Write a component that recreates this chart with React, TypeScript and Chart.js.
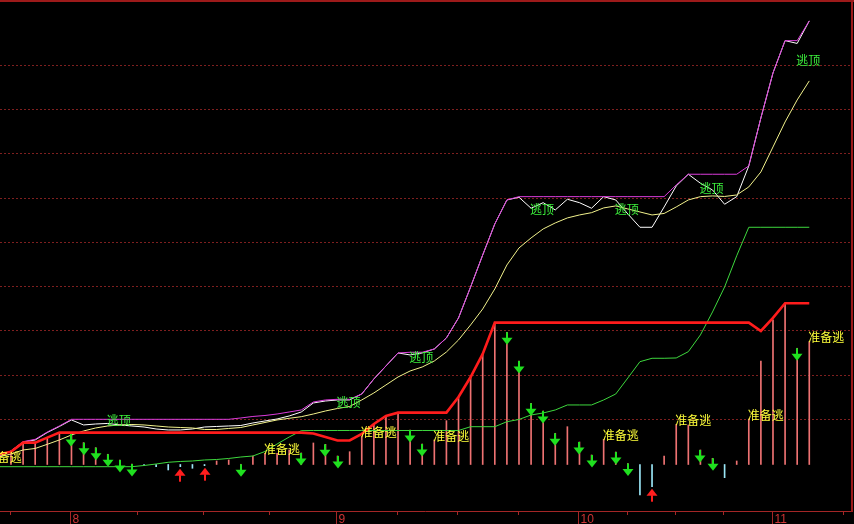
import { useEffect, useRef } from "react";
import { Chart, registerables } from "chart.js";

Chart.register(...registerables);

// One entry per trading session; index 0 is the session just left of the visible range.
const upperBand = [
  1.24, 1.92, 3.05, 5.15, 5.69, 7.34, 8.7, 10.21,
  10.21, 10.21, 10.21, 10.21, 10.21, 10.21, 10.21, 10.21, 10.21, 10.21, 10.21, 10.21, 10.21,
  10.51, 10.85, 11.07, 11.41, 11.86, 12.32, 14.12, 14.58, 14.73, 14.73,
  15.93, 19.32, 22.26, 25.2, 25.36, 25.36, 26.1, 28.59, 33.11, 40.11,
  47.34, 54.35, 59.77,
  60.52, 60.52, 60.52, 60.52, 60.52, 60.52, 60.52, 60.52, 60.52, 60.52, 60.52, 60.52, 60.52,
  63.16, 65.58, 65.58, 65.58, 65.58, 65.58, 67.46, 78.31, 88.47, 95.77, 95.77, 100.23,
];

const closePrice = [
  1.02, 1.92, 3.05, 5.08, 5.54, 7.23, 8.59, 10.06,
  8.93, 9.15, 9.27, 8.93, 8.7, 8.47, 8.02, 7.8, 7.8, 8.02, 8.47, 8.59, 8.7,
  8.81, 9.38, 9.83, 10.28, 10.96, 11.86, 13.9, 14.35, 14.58, 14.58,
  15.93, 19.32, 22.26, 25.2, 24.75, 25.2, 26.1, 28.59, 33.11, 40.11,
  47.34, 54.35, 59.77, 60.38, 57.9, 59.16, 57.51, 59.93, 59.16, 57.9,
  60.52, 59.77, 56.61, 53.6, 53.6, 58.19, 62.94, 65.58, 63.55, 62.03,
  58.8, 60.52, 67.46, 78.31, 88.47, 95.77, 95.14, 100.23,
];

const avgLine = [
  1.02, 1.69, 2.37, 3.28, 3.62, 4.56, 5.54, 6.67, 7.57, 8.25,
  8.7, 8.93, 9.04, 8.93, 8.7, 8.47, 8.36, 8.25, 7.91, 7.91,
  8.14, 8.36, 8.93, 9.49, 10.06, 10.44, 10.8, 11.41, 12.09, 12.66,
  13.11, 14.58, 16.16, 17.97, 19.77, 21.13, 22.03, 23.39, 25.42, 28.14,
  31.53, 35.14, 39.66, 45.08, 48.93, 51.19, 53.22, 54.58, 55.71, 56.38,
  56.9, 57.97, 58.42, 57.74, 57.06, 56.38, 56.72, 58.19, 59.77, 60.52,
  60.68, 60.56, 60.9, 62.71, 66.1, 71.75, 77.4, 82.37, 86.67,
];

const supportLine = [
  1.69, 2.31, 2.89, 4.93, 4.93, 6.06,
  7.19, 7.19, 7.19, 7.19, 7.19, 7.19, 7.19, 7.19, 7.19, 7.19, 7.19,
  7.19, 7.19, 7.19, 7.19, 7.19, 7.19, 7.19, 7.19, 7.19, 7.19,
  7.01, 6.21, 5.42, 5.42, 6.89, 9.15, 10.96,
  11.71, 11.71, 11.71, 11.71, 11.71,
  15.25, 19.77, 24.97,
  32.05, 32.05, 32.05, 32.05, 32.05, 32.05, 32.05, 32.05, 32.05, 32.05, 32.05,
  32.05, 32.05, 32.05, 32.05, 32.05, 32.05, 32.05, 32.05, 32.05, 32.05, 32.05,
  30.17, 33.11, 36.43, 36.43, 36.43,
];

const lowerLine = [
  -0.5, -0.5, -0.5, -0.5, -0.5, -0.5, -0.5, -0.5, -0.5, -0.5, -0.5, -0.5, -0.5,
  -0.23, 0.11, 0.5, 0.68, 0.79, 1.02, 1.13, 1.36, 1.69, 1.92, 2.94, 4.63, 6.21, 7.64,
  7.68, 7.68, 7.68, 7.68, 7.68, 7.68, 7.68, 7.68, 7.68, 7.68, 7.68, 7.68, 7.68,
  8.54, 8.54, 8.54, 9.67, 10.17, 11.19, 11.64, 12.32, 13.45, 13.45, 13.45,
  14.58, 15.93, 19.55, 23.23, 24.0, 24.0, 24.07, 25.49, 29.27, 34.46, 40.11, 47.15,
  53.6, 53.6, 53.6, 53.6, 53.6, 53.6,
];

const histogram = [
  0.68, 2.37, 2.82, 4.86, 4.86, 5.99, 7.12, 6.89, 4.93, 3.8,
  2.31, 1.02, 0.11, -0.2, -0.5, -1.24, -0.5, -0.86, -0.27, 0.79,
  1.02, 0.05, 1.92, 2.53, 2.53, 3.28, 2.6, 4.86, 4.56, 1.92,
  2.89, 6.28, 9.15, 10.96, 11.53, 7.8, 4.63, 5.54, 9.9, 15.25,
  19.77, 24.97, 32.05, 29.88, 23.39, 13.83, 12.09, 7.05, 8.54, 5.08,
  2.15, 5.65, 2.82, 0.23, -6.89, -5.02, 1.92, 9.04, 8.93, 3.28,
  1.4, -2.98, 0.79, 10.28, 23.39, 32.66, 36.43, 26.26, 27.75,
];

// Signal sessions
const sellArrowAt = [7, 8, 9, 10, 11, 12, 21, 26, 28, 29, 35, 36, 43, 44, 45, 46, 47, 49, 50, 52, 53, 59, 60, 67];
const buyArrowAt = [16, 18, 55];
const prepareAt = [0, 23, 31, 37, 51, 57, 63, 68];
const escapeTopAt = [10, 29, 35, 45, 52, 59, 67];
const escapeTopLevel = [10.06, 14.01, 24.18, 57.74, 57.74, 62.37, 91.19];

// Time axis
const monthLabels = ["8", "9", "10", "11"];
const monthStartAt = [7, 29, 49, 65];
const weekTickAt = [1.92, 12.42, 17.87, 23.33, 33.91, 38.87, 43.92, 52.93, 56.9, 60.87, 70.79];
const gridLevels = [10.28, 20.28, 30.28, 40.28, 50.28, 60.28, 70.28, 80.28, 90.28];

const pts = (arr: number[]) => arr.map((y, x) => ({ x, y }));

const CJK = '"Noto Sans CJK SC", "Noto Sans", sans-serif';

function sellArrow(ctx: CanvasRenderingContext2D, x: number, y: number) {
  ctx.fillRect(x - 1, y, 2, 6.5);
  ctx.beginPath();
  ctx.moveTo(x - 5.5, y + 5.5);
  ctx.lineTo(x + 5.5, y + 5.5);
  ctx.lineTo(x, y + 12.5);
  ctx.closePath();
  ctx.fill();
}

function buyArrow(ctx: CanvasRenderingContext2D, x: number, y: number) {
  ctx.beginPath();
  ctx.moveTo(x, y);
  ctx.lineTo(x + 5.5, y + 7);
  ctx.lineTo(x - 5.5, y + 7);
  ctx.closePath();
  ctx.fill();
  ctx.fillRect(x - 1, y + 6.5, 2, 6.5);
}

const terminalDecor = {
  id: "terminalDecor",
  beforeDraw(chart: any) {
    const { ctx, width, height } = chart;
    ctx.save();
    ctx.fillStyle = "#000";
    ctx.fillRect(0, 0, width, height);
    ctx.restore();
  },
  beforeDatasetsDraw(chart: any) {
    const { ctx, chartArea: a, scales } = chart;
    const xs = scales.x;
    const ys = scales.y;
    ctx.save();
    ctx.strokeStyle = "#7e1f1f";
    ctx.lineWidth = 1;
    ctx.setLineDash([2, 2]);
    for (const g of gridLevels) {
      const py = Math.round(ys.getPixelForValue(g)) + 0.5;
      ctx.beginPath();
      ctx.moveTo(a.left, py);
      ctx.lineTo(a.right, py);
      ctx.stroke();
    }
    ctx.setLineDash([]);

    // time axis
    const axisY = a.bottom + 0.5;
    ctx.strokeStyle = "#a42626";
    ctx.beginPath();
    ctx.moveTo(a.left, axisY);
    ctx.lineTo(a.right, axisY);
    ctx.stroke();
    for (const t of weekTickAt) {
      const px = Math.round(xs.getPixelForValue(t)) + 0.5;
      ctx.beginPath();
      ctx.moveTo(px, axisY);
      ctx.lineTo(px, axisY + 3.5);
      ctx.stroke();
    }
    ctx.font = '12px "Liberation Sans", "DejaVu Sans", sans-serif';
    ctx.fillStyle = "#cc3434";
    ctx.textAlign = "left";
    ctx.textBaseline = "alphabetic";
    monthLabels.forEach((lab, i) => {
      const px = Math.round(xs.getPixelForValue(monthStartAt[i] - 0.12)) + 0.5;
      ctx.beginPath();
      ctx.moveTo(px, axisY);
      ctx.lineTo(px, chart.height);
      ctx.stroke();
      ctx.fillText(lab, px + 2, chart.height - 1);
    });
    ctx.restore();
  },
  afterDatasetsDraw(chart: any) {
    const { ctx, chartArea: a, scales } = chart;
    const xs = scales.x;
    const ys = scales.y;
    ctx.save();
    ctx.beginPath();
    ctx.rect(a.left, a.top, a.right - a.left, a.bottom - a.top);
    ctx.clip();

    ctx.fillStyle = "#1fe01f";
    for (const k of sellArrowAt) {
      sellArrow(ctx, Math.round(xs.getPixelForValue(k)), ys.getPixelForValue(histogram[k]));
    }
    ctx.fillStyle = "#ff1e1e";
    for (const k of buyArrowAt) {
      buyArrow(ctx, Math.round(xs.getPixelForValue(k)), ys.getPixelForValue(histogram[k]) + 2);
    }

    ctx.font = `12px ${CJK}`;
    ctx.textAlign = "left";
    ctx.textBaseline = "bottom";
    ctx.fillStyle = "#ffff3a";
    for (const k of prepareAt) {
      ctx.fillText("准备逃", xs.getPixelForValue(k) - 1, ys.getPixelForValue(histogram[k]) + 2);
    }
    ctx.textBaseline = "middle";
    ctx.fillStyle = "#3cf03c";
    escapeTopAt.forEach((k, i) => {
      ctx.fillText("逃顶", xs.getPixelForValue(k) - 1, ys.getPixelForValue(escapeTopLevel[i]));
    });
    ctx.restore();
  },
  afterDraw(chart: any) {
    const { ctx, chartArea: a } = chart;
    ctx.save();
    ctx.fillStyle = "#9c1a1a";
    ctx.fillRect(0, 0, chart.width, 2);
    ctx.fillRect(a.right, 0, 2, a.bottom + 1);
    ctx.restore();
  },
};

export default function App() {
  const canvasRef = useRef<HTMLCanvasElement | null>(null);

  useEffect(() => {
    document.body.style.margin = "0";
    document.body.style.background = "#000";
    const canvas = canvasRef.current;
    if (!canvas) return;

    const line = (data: number[], color: string, width: number, order: number) => ({
      type: "line" as const,
      data: pts(data),
      borderColor: color,
      borderWidth: width,
      pointRadius: 0,
      tension: 0,
      fill: false,
      order,
    });

    const chart = new Chart(canvas, {
      type: "line",
      data: {
        datasets: [
          {
            type: "bar" as const,
            data: pts(histogram),
            backgroundColor: histogram.map((v) => (v >= 0 ? "#ee7272" : "#9ae6f6")),
            borderWidth: 0,
            barThickness: 1,
            order: 10,
          } as any,
          line(closePrice, "#ffffff", 1, 6),
          line(avgLine, "#f2f28c", 1, 5),
          line(upperBand, "#dc3cdc", 1, 4),
          line(lowerLine, "#3ed83e", 1, 3),
          line(supportLine, "#ff1c1c", 2.6, 2),
        ],
      },
      options: {
        responsive: false,
        maintainAspectRatio: false,
        animation: false,
        events: [],
        layout: { padding: { left: 0, right: 3, top: 2, bottom: 13 } },
        plugins: { legend: { display: false }, tooltip: { enabled: false } },
        scales: {
          x: { type: "linear", display: false, offset: false, bounds: "ticks", min: 1.091, max: 71.45 },
          y: { type: "linear", display: false, min: -10.51, max: 104.5 },
        },
      },
      plugins: [terminalDecor],
    });

    return () => chart.destroy();
  }, []);

  return (
    <div style={{ position: "fixed", left: 0, top: 0, width: 854, height: 524, background: "#000" }}>
      <canvas ref={canvasRef} width={854} height={524} style={{ display: "block" }} />
    </div>
  );
}
